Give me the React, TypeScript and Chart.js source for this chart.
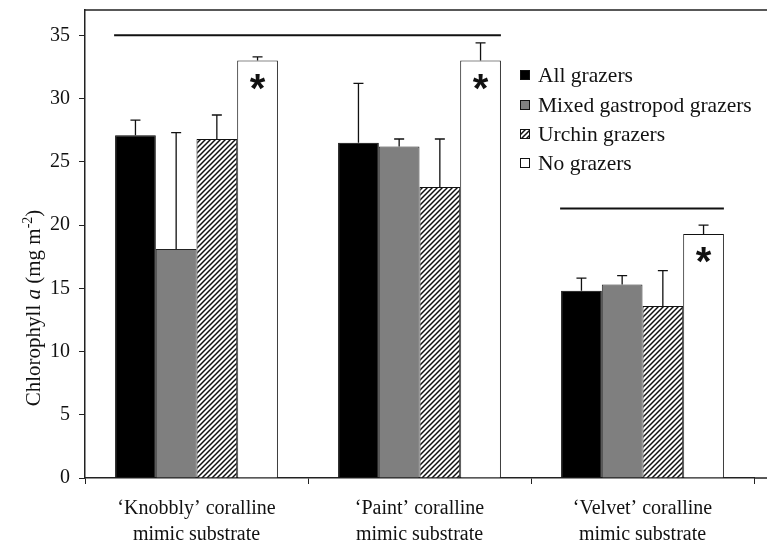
import React, { useEffect, useRef } from "react";
import { Chart, registerables } from "chart.js";

Chart.register(...registerables);

// ---------- data ----------
const categories = [
  ["\u2018Knobbly\u2019 coralline", "mimic substrate"],
  ["\u2018Paint\u2019 coralline", "mimic substrate"],
  ["\u2018Velvet\u2019 coralline", "mimic substrate"],
];
const seriesNames = ["All grazers", "Mixed gastropod grazers", "Urchin grazers", "No grazers"];
const allGrazers = [27.1, 26.5, 14.8];
const allGrazersSE = [1.2, 4.7, 1.0];
const mixedGastropod = [18.1, 26.2, 15.3];
const mixedGastropodSE = [9.2, 0.6, 0.7];
const urchinGrazers = [26.8, 23.0, 13.6];
const urchinGrazersSE = [1.9, 3.8, 2.8];
const noGrazers = [33.0, 33.0, 19.3];
const noGrazersSE = [0.3, 1.4, 0.7];
const yMin = 0;
const yMax = 37;
const yStep = 5;
// significance bars: from group index, to group index, height (y value)
const sigFrom = [0, 2];
const sigTo = [1, 2];
const sigValue = [35, 21.3];
const asteriskSeries = 3;

const values = [allGrazers, mixedGastropod, urchinGrazers, noGrazers];
const errors = [allGrazersSE, mixedGastropodSE, urchinGrazersSE, noGrazersSE];

const SERIF = "'Liberation Serif', 'Times New Roman', serif";
const INK = "#111";

function makeHatch(): CanvasPattern | string {
  const s = 5;
  const c = document.createElement("canvas");
  c.width = s;
  c.height = s;
  const g = c.getContext("2d");
  if (!g) return "#fff";
  g.fillStyle = "#fff";
  g.fillRect(0, 0, s, s);
  g.strokeStyle = "#111";
  g.lineWidth = 1.5;
  g.beginPath();
  g.moveTo(-1, s + 1);
  g.lineTo(s + 1, -1);
  g.moveTo(-1, 1);
  g.lineTo(1, -1);
  g.moveTo(s - 1, s + 1);
  g.lineTo(s + 1, s - 1);
  g.stroke();
  const p = g.createPattern(c, "repeat");
  return p || "#fff";
}

export default function App() {
  const ref = useRef<HTMLCanvasElement>(null);

  useEffect(() => {
    const canvas = ref.current;
    if (!canvas) return;
    const hatch = makeHatch();
    const fills: any[] = ["#000", "#7f7f7f", hatch, "#fff"];
    const borders = ["#000", "#222", "#111", "#111"];

    const extras = {
      id: "extras",
      afterDatasetsDraw(chart: any) {
        const ctx = chart.ctx as CanvasRenderingContext2D;
        const y = chart.scales.y;
        ctx.save();
        // error bars
        ctx.strokeStyle = INK;
        ctx.lineWidth = 1.3;
        errors.forEach((se, i) => {
          const meta = chart.getDatasetMeta(i);
          meta.data.forEach((bar: any, j: number) => {
            const v = values[i][j];
            const yb = y.getPixelForValue(v);
            const yt = y.getPixelForValue(v + se[j]);
            ctx.beginPath();
            ctx.moveTo(bar.x, yb);
            ctx.lineTo(bar.x, yt);
            ctx.moveTo(bar.x - 5, yt);
            ctx.lineTo(bar.x + 5, yt);
            ctx.stroke();
          });
        });
        // asterisks
        const am = chart.getDatasetMeta(asteriskSeries);
        ctx.fillStyle = INK;
        ctx.font = "bold 40px 'Liberation Sans', Arial, sans-serif";
        ctx.textAlign = "center";
        ctx.textBaseline = "alphabetic";
        am.data.forEach((bar: any) => {
          ctx.fillText("*", bar.x, bar.y + 41);
        });
        // significance lines
        const m0 = chart.getDatasetMeta(0);
        const m3 = chart.getDatasetMeta(3);
        ctx.lineWidth = 2;
        ctx.strokeStyle = INK;
        sigValue.forEach((v, k) => {
          const b0 = m0.data[sigFrom[k]];
          const b1 = m3.data[sigTo[k]];
          const x0 = b0.x - b0.width / 2 - 1;
          const x1 = b1.x + b1.width / 2;
          const yy = y.getPixelForValue(v);
          ctx.beginPath();
          ctx.moveTo(x0, yy);
          ctx.lineTo(x1, yy);
          ctx.stroke();
        });
        ctx.restore();
      },
      afterDraw(chart: any) {
        const ctx = chart.ctx as CanvasRenderingContext2D;
        const { left, right, top, bottom } = chart.chartArea;
        const W = chart.width;
        ctx.save();
        // frame: top line and axis extension
        ctx.strokeStyle = "#222";
        ctx.lineWidth = 1.5;
        ctx.beginPath();
        ctx.moveTo(left - 0.75, top);
        ctx.lineTo(W, top);
        ctx.moveTo(right, bottom);
        ctx.lineTo(W, bottom);
        ctx.stroke();

        // legend
        const lx = 520;
        const ly = [75, 105, 134, 163];
        ctx.font = `21.5px ${SERIF}`;
        ctx.textAlign = "left";
        ctx.textBaseline = "middle";
        seriesNames.forEach((name, i) => {
          const cy = ly[i];
          ctx.fillStyle = fills[i];
          ctx.fillRect(lx, cy - 5, 10, 10);
          ctx.strokeStyle = "#111";
          ctx.lineWidth = 1;
          ctx.strokeRect(lx + 0.5, cy - 4.5, 9, 9);
          ctx.fillStyle = INK;
          ctx.fillText(name, lx + 18, cy + 1);
        });

        // y axis title with italic "a" and superscript
        const parts = [
          { t: "Chlorophyll ", f: `21px ${SERIF}`, dy: 0 },
          { t: "a", f: `italic 21px ${SERIF}`, dy: 0 },
          { t: " (mg m", f: `21px ${SERIF}`, dy: 0 },
          { t: "-2", f: `14px ${SERIF}`, dy: -8 },
          { t: ")", f: `21px ${SERIF}`, dy: 0 },
        ];
        let total = 0;
        const widths = parts.map((p) => {
          ctx.font = p.f;
          const w = ctx.measureText(p.t).width;
          total += w;
          return w;
        });
        ctx.translate(40, 308);
        ctx.rotate(-Math.PI / 2);
        ctx.textAlign = "left";
        ctx.textBaseline = "alphabetic";
        ctx.fillStyle = INK;
        let x = -total / 2;
        parts.forEach((p, i) => {
          ctx.font = p.f;
          ctx.fillText(p.t, x, p.dy);
          x += widths[i];
        });
        ctx.restore();
      },
    };

    const chart = new Chart(canvas, {
      type: "bar",
      data: {
        labels: categories as any,
        datasets: seriesNames.map((name, i) => ({
          label: name,
          data: values[i],
          backgroundColor: fills[i],
          borderColor: borders[i],
          borderWidth: 1,
          categoryPercentage: 0.73,
          barPercentage: 1.0,
        })),
      },
      options: {
        animation: false,
        responsive: false,
        maintainAspectRatio: false,
        layout: { padding: { top: 10, right: 13, left: 0, bottom: 0 } },
        plugins: {
          legend: { display: false },
          tooltip: { enabled: false },
          title: { display: false },
        },
        scales: {
          x: {
            type: "category",
            offset: true,
            grid: {
              display: true,
              drawOnChartArea: false,
              drawTicks: true,
              tickLength: 6,
              color: "#222",
              offset: true,
            },
            border: { display: true, color: "#222", width: 1.5 },
            ticks: {
              color: INK,
              font: { family: SERIF, size: 20, lineHeight: 1.3 },
              padding: 12,
              maxRotation: 0,
              minRotation: 0,
              autoSkip: false,
            },
            afterFit: (s: any) => {
              s.height = 67;
              s.paddingLeft = 0;
              s.paddingRight = 0;
            },
          },
          y: {
            min: yMin,
            max: yMax,
            ticks: {
              stepSize: yStep,
              color: INK,
              font: { family: SERIF, size: 20 },
              padding: 9,
            },
            afterBuildTicks: (s: any) => {
              s.ticks = s.ticks.filter((t: any) => t.value % yStep === 0);
            },
            grid: {
              display: true,
              drawOnChartArea: false,
              drawTicks: true,
              tickLength: 6,
              color: "#222",
            },
            border: { display: true, color: "#222", width: 1.5 },
            afterFit: (s: any) => {
              s.width = 85;
              s.paddingTop = 0;
              s.paddingBottom = 0;
            },
          },
        },
      },
      plugins: [extras],
    });

    return () => chart.destroy();
  }, []);

  return (
    <div style={{ position: "absolute", left: 0, top: 0, width: 767, height: 545, background: "#fff" }}>
      <canvas ref={ref} width={767} height={545} style={{ display: "block" }} />
    </div>
  );
}
